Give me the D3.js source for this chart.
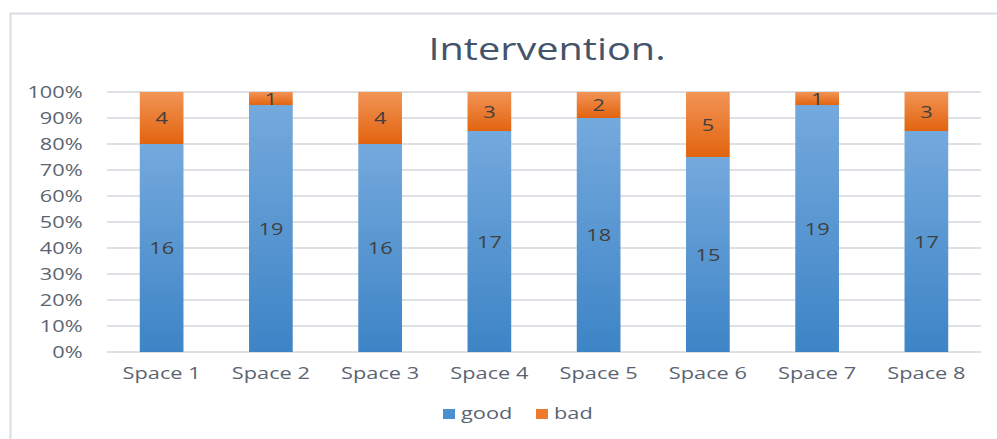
<!DOCTYPE html>
<html>
<head>
<meta charset="utf-8">
<script src="https://cdn.jsdelivr.net/npm/d3@7"></script>
<style>
  body { margin: 0; background: #fff; }
  svg text { font-family: "Open Sans", "DejaVu Sans", sans-serif; }
</style>
</head>
<body>
<div id="chart"></div>
<script>
// chart data
const categories = ['Space 1', 'Space 2', 'Space 3', 'Space 4', 'Space 5', 'Space 6', 'Space 7', 'Space 8'];
const good = [16, 19, 16, 17, 18, 15, 19, 17];
const bad = [4, 1, 4, 3, 2, 5, 1, 3];
const tickValues = [0, 0.1, 0.2, 0.3, 0.4, 0.5, 0.6, 0.7, 0.8, 0.9, 1];
const seriesNames = ['good', 'bad'];

const W = 997;
const H = 439;
const margin = { top: 92, right: 16, bottom: 87, left: 107 };
const width = W - margin.left - margin.right;
const height = H - margin.top - margin.bottom;
// the source picture is stretched sideways, so text is too
const SX = 1.28;

const svg = d3.select('#chart')
  .append('svg')
  .attr('width', W)
  .attr('height', H);

// text placed at (x, y) but widened by SX around that point
const wideText = (sel, x, y) => sel
  .attr('transform', `translate(${x},${y}) scale(${SX},1)`);

// gradients
const defs = svg.append('defs');
const grad = (id, top, bottom) => {
  const gr = defs.append('linearGradient').attr('id', id)
    .attr('x1', 0).attr('y1', 0).attr('x2', 0).attr('y2', 1);
  gr.append('stop').attr('offset', '0%').attr('stop-color', top);
  gr.append('stop').attr('offset', '100%').attr('stop-color', bottom);
};
grad('gGood', '#74a9dd', '#3d84c6');
grad('gBad', '#f29456', '#e2640f');

// chart frame
svg.append('path')
  .attr('d', `M10.5,${H}V13.5H${W}`)
  .attr('fill', 'none')
  .attr('stroke', '#d9dde3')
  .attr('stroke-width', 2);

svg.append('text')
  .attr('text-anchor', 'middle')
  .attr('fill', '#44546a')
  .style('font-size', '31px')
  .text('Intervention.')
  .call(wideText, 547, 60);

const g = svg.append('g')
  .attr('transform', `translate(${margin.left},${margin.top})`);

const x = d3.scaleBand()
  .domain(categories)
  .range([0, width])
  .paddingInner(0.6)
  .paddingOuter(0.3);

const y = d3.scaleLinear()
  .domain([0, 1])
  .range([height, 0]);

// grid
g.selectAll('.grid')
  .data(tickValues)
  .enter()
  .append('line')
  .attr('x1', 0)
  .attr('x2', width)
  .attr('y1', (d) => y(d))
  .attr('y2', (d) => y(d))
  .attr('stroke', '#dde1e6')
  .attr('stroke-width', 2);

// y axis
const yAxis = g.append('g')
  .call(d3.axisLeft(y).tickValues(tickValues).tickFormat(d3.format('.0%')).tickSize(0).tickPadding(19));
yAxis.select('.domain').remove();
yAxis.selectAll('text')
  .attr('fill', '#5a6472')
  .attr('transform', `scale(${SX},1)`)
  .style('font-size', '17px');

// x axis
const xAxis = g.append('g')
  .attr('transform', `translate(0,${height})`)
  .call(d3.axisBottom(x).tickSize(0).tickPadding(15));
xAxis.select('.domain').remove();
xAxis.selectAll('text')
  .attr('fill', '#5a6472')
  .attr('transform', `scale(${SX},1)`)
  .style('font-size', '17px');

// stacked 100%
const rows = categories.map((c, i) => ({ cat: c, good: good[i], bad: bad[i] }));
const stack = d3.stack().keys(seriesNames).offset(d3.stackOffsetExpand);
const series = stack(rows);
const fills = { good: 'url(#gGood)', bad: 'url(#gBad)' };

series.forEach((s) => {
  const layer = g.append('g');
  layer.selectAll('rect')
    .data(s)
    .enter()
    .append('rect')
    .attr('x', (d) => x(d.data.cat))
    .attr('y', (d) => y(d[1]))
    .attr('width', x.bandwidth())
    .attr('height', (d) => y(d[0]) - y(d[1]))
    .attr('fill', fills[s.key]);

  layer.selectAll('text')
    .data(s)
    .enter()
    .append('text')
    .attr('dy', '0.36em')
    .attr('text-anchor', 'middle')
    .attr('fill', '#404040')
    .style('font-size', '17px')
    .text((d) => d.data[s.key])
    .each(function place(d) {
      d3.select(this).call(wideText,
        x(d.data.cat) + x.bandwidth() / 2,
        (y(d[0]) + y(d[1])) / 2);
    });
});

// legend
const legendItems = [
  { name: 'good', fill: '#4a8fd0', x: 443 },
  { name: 'bad', fill: '#ee7a2e', x: 536 },
];
const legend = svg.append('g');
legendItems.forEach((l) => {
  legend.append('rect')
    .attr('x', l.x)
    .attr('y', 409)
    .attr('width', 12)
    .attr('height', 10)
    .attr('fill', l.fill);
  legend.append('text')
    .attr('fill', '#5a6472')
    .style('font-size', '17px')
    .text(l.name)
    .call(wideText, l.x + 18, 419);
});
</script>
</body>
</html>
